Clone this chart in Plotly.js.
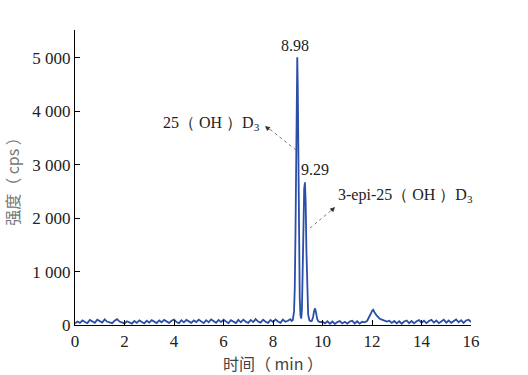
<!DOCTYPE html>
<html><head><meta charset="utf-8">
<script src="https://cdn.plot.ly/plotly-3.0.1.min.js"></script>
<style>body{margin:0;background:#fff}#c{width:528px;height:375px}</style>
</head><body><div id="c"></div>
<script>
const time = [
0,0.1,0.2,0.3,0.4,0.5,0.6,0.7,0.8,0.9,
1.0,1.1,1.2,1.3,1.4,1.5,1.6,1.7,1.8,1.9,
2.0,2.1,2.2,2.3,2.4,2.5,2.6,2.7,2.8,2.9,
3.0,3.1,3.2,3.3,3.4,3.5,3.6,3.7,3.8,3.9,
4.0,4.1,4.2,4.3,4.4,4.5,4.6,4.7,4.8,4.9,
5.0,5.1,5.2,5.3,5.4,5.5,5.6,5.7,5.8,5.9,
6.0,6.1,6.2,6.3,6.4,6.5,6.6,6.7,6.8,6.9,
7.0,7.1,7.2,7.3,7.4,7.5,7.6,7.7,7.8,7.9,
8.0,8.1,8.2,8.3,8.4,8.5,8.6,8.7,
8.75,8.80,8.85,8.88,8.91,8.94,8.96,8.98,9.00,9.02,9.05,9.08,9.11,9.14,9.17,
9.20,9.23,9.26,9.29,9.32,9.35,9.38,9.42,9.47,9.52,9.57,9.62,9.66,9.70,9.74,9.78,9.83,9.90,
10.0,10.1,10.2,10.3,10.4,10.5,10.6,10.7,10.8,10.9,
11.0,11.1,11.2,11.3,11.4,11.5,11.6,11.7,
11.8,11.9,11.95,12.0,12.05,12.1,12.15,12.2,12.25,12.3,12.4,12.5,12.6,
12.7,12.8,12.9,13.0,13.1,13.2,13.3,13.4,13.5,13.6,13.7,13.8,13.9,
14.0,14.1,14.2,14.3,14.4,14.5,14.6,14.7,14.8,14.9,
15.0,15.1,15.2,15.3,15.4,15.5,15.6,15.7,15.8,15.9,16.0
];
const intensity = [
30,65,40,85,55,35,95,60,40,100,
70,45,105,60,50,35,80,110,65,40,
30,70,45,25,75,40,85,50,30,80,
45,90,55,35,85,50,95,60,40,80,
100,55,35,90,50,95,60,40,85,55,
100,60,35,90,50,105,65,40,95,55,
100,60,35,90,55,35,95,50,100,60,
40,95,55,110,65,45,100,60,40,95,
55,105,65,40,100,60,80,110,
75,95,250,700,1800,3500,4600,5010,4500,3200,1500,500,180,120,300,
1100,2100,2550,2670,2300,1400,600,200,90,70,80,150,260,310,230,120,70,55,
60,30,70,25,65,20,55,75,30,60,
25,65,80,30,70,25,60,50,
75,150,210,260,285,240,200,170,150,120,100,80,65,
80,40,75,30,70,25,65,85,35,75,30,70,90,
40,80,35,75,95,45,85,35,75,100,
45,85,40,80,105,50,90,40,85,100,55
];
const xTicks = [0,2,4,6,8,10,12,14,16];
const yTicks = [0,1000,2000,3000,4000,5000];
const yTickText = ["0","1 000","2 000","3 000","4 000","5 000"];
const peakLabels = [{t:8.98,v:5010,text:"8.98"},{t:9.29,v:2670,text:"9.29"}];
const compoundLabels = ["25（ OH ）D<sub>3</sub>","3-epi-25（ OH ）D<sub>3</sub>"];

const F = "'Liberation Serif', 'Times New Roman', serif";
const FC = "'Noto Sans CJK SC', 'Liberation Serif', serif";

const X0=75, X1=471, Y0=325, YT=30;
const yMax = 5520;
function px2x(p){return (p-X0)/(X1-X0)*16;}
function py2y(p){return (Y0-p)/(Y0-YT)*yMax;}

const annotations = [
  {x:peakLabels[0].t, y:peakLabels[0].v, text:peakLabels[0].text, showarrow:false, yanchor:'bottom', yshift:1, xshift:-2, font:{family:F,size:16,color:'#222'}},
  {x:peakLabels[1].t, y:peakLabels[1].v, text:peakLabels[1].text, showarrow:false, yanchor:'bottom', xanchor:'left', xshift:-6, yshift:2, font:{family:F,size:16,color:'#222'}},
  {x:px2x(262), y:py2y(123), text:compoundLabels[0], showarrow:false, xanchor:'right', font:{family:F,size:16,color:'#222'}},
  {x:px2x(336), y:py2y(195), text:compoundLabels[1], showarrow:false, xanchor:'left', font:{family:F,size:16,color:'#222'}},
  {x:px2x(265), y:py2y(126), ax:6, ay:5, text:'', showarrow:true, arrowhead:2, arrowsize:1, arrowwidth:1, arrowcolor:'#333'},
  {x:px2x(335), y:py2y(207), ax:-5, ay:5, text:'', showarrow:true, arrowhead:2, arrowsize:1, arrowwidth:1, arrowcolor:'#333'}
];
const shapes = [
  {type:'line', x0:px2x(296), y0:py2y(150), x1:px2x(267), y1:py2y(127), line:{color:'#555',width:0.8,dash:'dot'}},
  {type:'line', x0:px2x(310), y0:py2y(228), x1:px2x(333), y1:py2y(209), line:{color:'#555',width:0.8,dash:'dot'}}
];

Plotly.newPlot('c', [{
  x: time, y: intensity, type:'scatter', mode:'lines',
  line:{color:'#2a4fa8', width:1.8}, hoverinfo:'skip'
}], {
  width:528, height:375,
  margin:{l:X0, r:528-X1, t:YT, b:375-Y0},
  paper_bgcolor:'#fff', plot_bgcolor:'#fff',
  showlegend:false,
  xaxis:{range:[0,16], tickvals:xTicks, ticktext:xTicks.map(String), ticks:'inside', ticklen:5, tickcolor:'#000',
    showline:true, linecolor:'#000', linewidth:1.2, showgrid:false, zeroline:false, mirror:false,
    tickfont:{family:F,size:17,color:'#222'},
    title:{text:'时间（ min ）', font:{family:FC,size:16,color:'#444'}, standoff:2}},
  yaxis:{range:[0,yMax], tickvals:yTicks, ticktext:yTickText, ticks:'inside', ticklen:5, tickcolor:'#000',
    showline:true, linecolor:'#000', linewidth:1.2, showgrid:false, zeroline:false,
    tickfont:{family:F,size:17,color:'#222'},
    title:{text:'强度（ cps ）', font:{family:FC,size:16,color:'#777'}, standoff:8}},
  annotations, shapes
}, {staticPlot:true, displayModeBar:false});
</script></body></html>
